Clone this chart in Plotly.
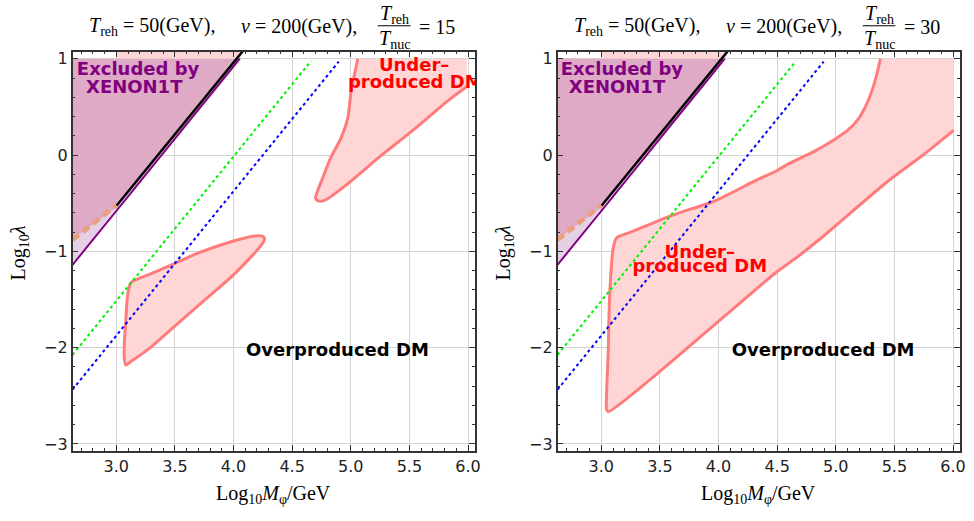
import plotly.graph_objects as go

# ---------------- data ----------------
x_range = [2.627, 6.06]
y_range = [-3.07, 1.075]

# XENON1T excluded region and boundary lines (same in both panels)
excl_x = [2.627, 4.054, 3.0, 2.627]
excl_y = [1.0, 1.0, -0.55, -0.88]
light_x = [2.627, 3.0, 2.627]
light_y = [-0.88, -0.55, -1.14]
topband_x = [3.0, 4.054, 4.1, 3.0]
topband_y = [1.0, 1.0, 1.12, 1.12]
purple_x = [2.627, 4.054]
purple_y = [-1.14, 1.0]
black_x = [3.0, 4.1]
black_y = [-0.53, 1.11]
dash_x = [2.627, 3.0]
dash_y = [-0.88, -0.52]
green_x = [2.627, 4.66]
green_y = [-2.075, 0.975]
blue_x = [2.627, 4.897]
blue_y = [-2.435, 0.97]

# Panel 1 (T_reh/T_nuc = 15): under-produced contours
L1_x = [3.125, 3.28, 3.477, 3.70, 3.986, 4.18, 4.25, 4.265, 4.24, 4.155, 3.986, 3.76,
        3.506, 3.28, 3.13, 3.082, 3.068, 3.068, 3.082, 3.096, 3.125]
L1_y = [-1.326, -1.24, -1.138, -1.017, -0.898, -0.84, -0.845, -0.87, -0.93, -1.05, -1.26,
        -1.50, -1.77, -2.01, -2.14, -2.18, -2.11, -1.977, -1.70, -1.463, -1.326]
L2_x = [5.06, 5.003, 4.975, 4.918, 4.83, 4.763, 4.712, 4.70, 4.72, 4.777, 4.975, 5.257,
        5.54, 5.822, 5.99]
L2_y = [1.0, 0.66, 0.386, 0.18, -0.025, -0.23, -0.39, -0.45, -0.475, -0.47, -0.298,
        -0.007, 0.267, 0.558, 0.712]
L2_corner_x = [5.99]
L2_corner_y = [1.0]

# Panel 2 (T_reh/T_nuc = 30)
R_x = [5.381, 5.33, 5.26, 5.19, 5.1, 5.0, 4.80, 4.60, 4.488, 4.318, 3.98, 3.61, 3.25, 3.15,
       3.125, 3.10, 3.07, 3.06, 3.045, 3.045, 3.06, 4.49, 4.66, 4.857, 5.452, 5.736, 6.005]
R_y = [1.0, 0.75, 0.52, 0.37, 0.255, 0.17, 0.027, -0.09, -0.168, -0.264, -0.47, -0.624,
       -0.80, -0.845, -0.87, -0.98, -1.50, -2.01, -2.5, -2.645, -2.665, -1.22, -1.07, -0.88,
       -0.264, -0.007, 0.257]
R_corner_x = [6.005]
R_corner_y = [1.0]

ratios = ["15", "30"]

# ---------------- figure ----------------
PINK_FILL = "#FFD6D6"
PINK_LINE = "#FF7C7C"
W, H = 974, 521


def px(xp):
    return xp / W


def py(yp):
    return 1 - yp / H


fig = go.Figure()


def add_common(xa, ya):
    fig.add_trace(go.Scatter(x=topband_x, y=topband_y, fill="toself", fillcolor=PINK_FILL,
                             mode="none", xaxis=xa, yaxis=ya, hoverinfo="skip"))
    fig.add_trace(go.Scatter(x=excl_x, y=excl_y, fill="toself", fillcolor="#DEAAC6",
                             mode="none", xaxis=xa, yaxis=ya, hoverinfo="skip"))
    fig.add_trace(go.Scatter(x=light_x, y=light_y, fill="toself", fillcolor="#E6D0E6",
                             mode="none", xaxis=xa, yaxis=ya, hoverinfo="skip"))


def add_lines(xa, ya):
    fig.add_trace(go.Scatter(x=green_x, y=green_y, mode="lines", xaxis=xa, yaxis=ya,
                             line=dict(color="#00F000", width=2, dash="dot")))
    fig.add_trace(go.Scatter(x=blue_x, y=blue_y, mode="lines", xaxis=xa, yaxis=ya,
                             line=dict(color="#0000FF", width=2, dash="dot")))
    fig.add_trace(go.Scatter(x=purple_x, y=purple_y, mode="lines", xaxis=xa, yaxis=ya,
                             line=dict(color="#800080", width=2)))
    fig.add_trace(go.Scatter(x=black_x, y=black_y, mode="lines", xaxis=xa, yaxis=ya,
                             line=dict(color="#000000", width=2.5)))
    fig.add_trace(go.Scatter(x=dash_x, y=dash_y, mode="lines", xaxis=xa, yaxis=ya,
                             line=dict(color="#E8A07E", width=5, dash="8px,5px")))


def add_text(xa, ya, x, y, txt, color):
    fig.add_trace(go.Scatter(x=[x], y=[y], mode="text", text=["<b>" + txt + "</b>"],
                             textposition="middle center", cliponaxis=True,
                             textfont=dict(family="DejaVu Sans", size=18, color=color),
                             xaxis=xa, yaxis=ya, hoverinfo="skip"))


SPL = dict(shape="spline", smoothing=0.7)

# panel 1
add_common("x", "y")
fig.add_trace(go.Scatter(x=L2_x + L2_corner_x, y=L2_y + L2_corner_y, fill="toself",
                         fillcolor=PINK_FILL, mode="none", hoverinfo="skip"))
fig.add_trace(go.Scatter(x=L2_x, y=L2_y, mode="lines",
                         line=dict(color=PINK_LINE, width=3, **SPL)))
fig.add_trace(go.Scatter(x=L1_x, y=L1_y, fill="toself", fillcolor=PINK_FILL, mode="lines",
                         line=dict(color=PINK_LINE, width=3, **SPL)))
add_lines("x", "y")
add_text("x", "y", 3.186, 0.877, "Excluded by", "#800080")
add_text("x", "y", 3.153, 0.695, "XENON1T", "#800080")
add_text("x", "y", 5.54, 0.918, "Under–", "#FF0000")
add_text("x", "y", 5.55, 0.746, "produced DM", "#FF0000")
add_text("x", "y", 4.886, -2.042, "Overproduced DM", "#000000")

# panel 2
add_common("x2", "y2")
fig.add_trace(go.Scatter(x=R_x + R_corner_x, y=R_y + R_corner_y, fill="toself",
                         fillcolor=PINK_FILL, mode="none", xaxis="x2", yaxis="y2",
                         hoverinfo="skip"))
fig.add_trace(go.Scatter(x=R_x, y=R_y, mode="lines", xaxis="x2", yaxis="y2",
                         line=dict(color=PINK_LINE, width=3, **SPL)))
add_lines("x2", "y2")
add_text("x2", "y2", 3.176, 0.877, "Excluded by", "#800080")
add_text("x2", "y2", 3.134, 0.695, "XENON1T", "#800080")
add_text("x2", "y2", 3.84, -1.018, "Under–", "#FF0000")
add_text("x2", "y2", 3.84, -1.172, "produced DM", "#FF0000")
add_text("x2", "y2", 4.892, -2.042, "Overproduced DM", "#000000")

ydom = [py(453), py(50)]


def xaxis_cfg(dom):
    return dict(domain=dom, range=x_range, tickmode="linear", tick0=3.0, dtick=0.5,
                tickformat=".1f", ticks="inside", ticklen=6, tickcolor="#333",
                showline=True, linecolor="#333", linewidth=1.5, mirror="allticks",
                showgrid=True, gridcolor="#D4D4D4", gridwidth=1, zeroline=False,
                minor=dict(dtick=0.1, ticks="inside", ticklen=3, tickcolor="#333",
                           showgrid=False),
                tickfont=dict(family="DejaVu Sans", size=16, color="#222"))


def yaxis_cfg(anchor):
    return dict(domain=ydom, range=y_range, tickmode="linear", tick0=0, dtick=1,
                ticks="inside", ticklen=6, tickcolor="#333", anchor=anchor,
                showline=True, linecolor="#333", linewidth=1.5, mirror="allticks",
                showgrid=True, gridcolor="#D4D4D4", gridwidth=1, zeroline=False,
                minor=dict(dtick=0.2, ticks="inside", ticklen=3, tickcolor="#333",
                           showgrid=False),
                tickfont=dict(family="DejaVu Sans", size=16, color="#222"))


xa1 = xaxis_cfg([px(73), px(478)])
xa1["anchor"] = "y"
xa2 = xaxis_cfg([px(561), px(966)])
xa2["anchor"] = "y2"

fig.update_layout(
    width=W, height=H, margin=dict(l=0, r=0, t=0, b=0),
    paper_bgcolor="white", plot_bgcolor="white", showlegend=False,
    xaxis=xa1, yaxis=yaxis_cfg("x"), xaxis2=xa2, yaxis2=yaxis_cfg("x2"),
)

SERIF = "Liberation Serif"
FONT = dict(family=SERIF, size=20, color="black")
ann = []
shapes = []
for s, ratio in zip([88, 576], ratios):
    ann.append(dict(x=px(s), y=py(25), xref="paper", yref="paper", xanchor="left",
                    yanchor="middle", showarrow=False,
                    text="<i>T</i><sub>reh</sub> = 50(GeV),", font=FONT))
    ann.append(dict(x=px(s + 152), y=py(25), xref="paper", yref="paper",
                    xanchor="left", yanchor="middle", showarrow=False,
                    text="<i>v</i> = 200(GeV),", font=FONT))
    ann.append(dict(x=px(s + 308.5), y=py(13), xref="paper", yref="paper",
                    xanchor="center", yanchor="middle", showarrow=False,
                    text="<i>T</i><sub>reh</sub>", font=FONT))
    ann.append(dict(x=px(s + 308.5), y=py(38), xref="paper", yref="paper",
                    xanchor="center", yanchor="middle", showarrow=False,
                    text="<i>T</i><sub>nuc</sub>", font=FONT))
    ann.append(dict(x=px(s + 332), y=py(25), xref="paper", yref="paper",
                    xanchor="left", yanchor="middle", showarrow=False,
                    text="= " + ratio, font=FONT))
    shapes.append(dict(type="line", xref="paper", yref="paper",
                       x0=px(s + 292), x1=px(s + 325), y0=py(24), y1=py(24),
                       line=dict(color="black", width=1)))

for cx in [275.5, 763.5]:
    ann.append(dict(x=px(cx), y=py(497), xref="paper", yref="paper", xanchor="center",
                    yanchor="middle", showarrow=False,
                    text="Log<sub>10</sub><i>M</i><sub>φ</sub>/GeV", font=FONT))
for cx in [20, 508]:
    ann.append(dict(x=px(cx), y=py(253), xref="paper", yref="paper", xanchor="center",
                    yanchor="middle", showarrow=False, textangle=-90,
                    text="Log<sub>10</sub><i>λ</i>", font=FONT))

fig.update_layout(annotations=ann, shapes=shapes)
# remove the browser's default page margin so the 974x521 figure fills the window
fig.write_html("out.html", config={"displayModeBar": False},
               post_script="document.body.style.margin='0px';"
                           "document.body.style.overflow='hidden';")
